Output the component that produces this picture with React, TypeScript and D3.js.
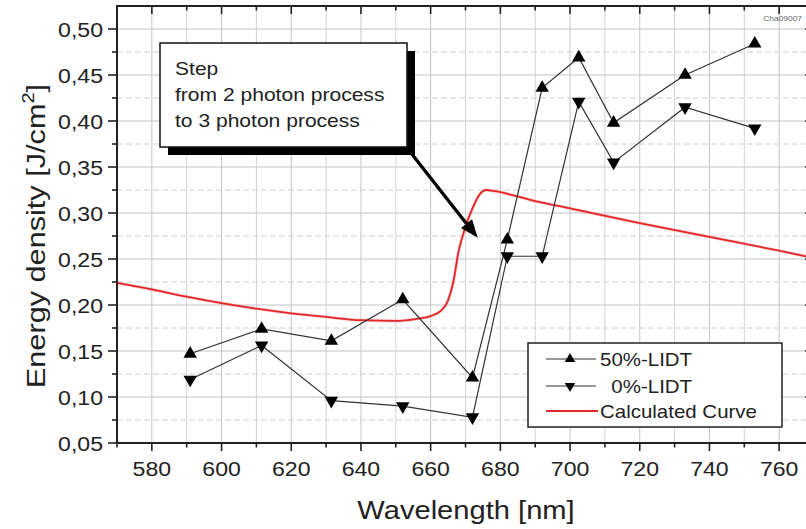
import React from "react";
import * as d3 from "d3";

// ---- data ----
const wavelengths = [591, 611.5, 631.5, 652, 672, 682, 692, 702.5, 712.5, 733, 753];
const lidt50 = [0.147, 0.174, 0.161, 0.206, 0.121, 0.271, 0.436, 0.469, 0.398, 0.45, 0.484];
const lidt0 = [0.119, 0.156, 0.096, 0.09, 0.078, 0.253, 0.253, 0.421, 0.355, 0.415, 0.392];

const calcWl = [570, 580, 590, 600, 610, 620, 630, 640, 650, 656, 660, 663, 665, 666.5, 668, 670, 672, 674, 676, 678, 690, 700, 720, 740, 760, 770];
const calcVal = [0.224, 0.217, 0.209, 0.202, 0.196, 0.191, 0.187, 0.1835, 0.1828, 0.185, 0.188, 0.194, 0.205, 0.225, 0.258, 0.285, 0.305, 0.32, 0.325, 0.324, 0.313, 0.305, 0.289, 0.274, 0.259, 0.251];

const xMajorTicks = [580, 600, 620, 640, 660, 680, 700, 720, 740, 760];
const xMinorTicks = [570, 590, 610, 630, 650, 670, 690, 710, 730, 750, 770];
const yMajorTicks = [0.05, 0.1, 0.15, 0.2, 0.25, 0.3, 0.35, 0.4, 0.45, 0.5];
const yMinorTicks = [0.075, 0.125, 0.175, 0.225, 0.275, 0.325, 0.375, 0.425, 0.475];

const legendLabels = ["50%-LIDT", "  0%-LIDT", "Calculated Curve"];
const noteLines = ["Step", "from 2 photon process", "to 3 photon process"];

const W = 806;
const H = 529;
const FONT = "'Liberation Sans', Arial, Helvetica, sans-serif";

const x = d3.scaleLinear().domain([570, 770]).range([117, 814]);
const y = d3.scaleLinear().domain([0.05, 0.525]).range([443, 6]);

const fmt = (v: number) => d3.format(".2f")(v).replace(".", ",");

function SText(props: any) {
  const { x: tx, y: ty, anchor = "start", size, sx = 1.15, rotate, fill = "#222", children } = props;
  return (
    <text
      transform={`translate(${tx},${ty})${rotate ? ` rotate(${rotate})` : ""} scale(${sx},1)`}
      textAnchor={anchor}
      fontSize={size}
      fontFamily={FONT}
      fill={fill}
      style={{ whiteSpace: "pre" }}
    >
      {children}
    </text>
  );
}

export default function App() {
  const [x0, x1] = [x(570), x(770)];
  const [yb, yt] = [y(0.05), y(0.525)];

  const seriesLine = d3
    .line<number>()
    .x((_, i) => x(wavelengths[i]))
    .y((d) => y(d));

  const calcLine = d3
    .line<number>()
    .x((_, i) => x(calcWl[i]))
    .y((d) => y(d))
    .curve(d3.curveMonotoneX);

  const tri = d3.symbol().type(d3.symbolTriangle).size(78)() as string;
  const triSmall = d3.symbol().type(d3.symbolTriangle).size(48)() as string;

  // annotation geometry
  const box = { l: 160, t: 43, r: 407, b: 147 };
  const shadow = 8;
  const arrowStart = [411, 153];
  const arrowEnd = [x(673.5), y(0.273)];
  const ang = Math.atan2(arrowEnd[1] - arrowStart[1], arrowEnd[0] - arrowStart[0]);
  const hl = 18;
  const hw = 7;
  const bx = arrowEnd[0] - hl * Math.cos(ang);
  const by = arrowEnd[1] - hl * Math.sin(ang);
  const head = [
    [arrowEnd[0], arrowEnd[1]],
    [bx + hw * Math.sin(ang), by - hw * Math.cos(ang)],
    [bx - hw * Math.sin(ang), by + hw * Math.cos(ang)],
  ];

  const leg = { l: 528, t: 343, r: 782, b: 427 };
  const legRows = [359, 386, 411];

  return (
    <svg
      width={W}
      height={H}
      style={{ position: "absolute", left: 0, top: 0, background: "#fff" }}
    >
      <defs>
        <clipPath id="plot">
          <rect x={x0} y={yt} width={x1 - x0} height={yb - yt} />
        </clipPath>
      </defs>
      <rect x={0} y={0} width={W} height={H} fill="#fff" />

      {/* grid */}
      <g>
        {xMinorTicks.map((t) => (
          <line key={"gxm" + t} x1={x(t)} x2={x(t)} y1={yt} y2={yb} stroke="#d2d2d2" strokeWidth={1} />
        ))}
        {xMajorTicks.map((t) => (
          <line key={"gx" + t} x1={x(t)} x2={x(t)} y1={yt} y2={yb} stroke="#c4c4c4" strokeWidth={1} />
        ))}
        {yMinorTicks.map((t) => (
          <line key={"gym" + t} x1={x0} x2={x1} y1={y(t)} y2={y(t)} stroke="#d0d0d0" strokeWidth={1} strokeDasharray="6,3" />
        ))}
        {yMajorTicks.map((t) => (
          <line key={"gy" + t} x1={x0} x2={x1} y1={y(t)} y2={y(t)} stroke="#c4c4c4" strokeWidth={1} />
        ))}
      </g>

      {/* data */}
      <g clipPath="url(#plot)">
        <path d={calcLine(calcVal) as string} fill="none" stroke="#f4a0a0" strokeWidth={3.2} opacity={0.5} />
        <path d={calcLine(calcVal) as string} fill="none" stroke="#e2262c" strokeWidth={1.8} />
        <path d={seriesLine(lidt50) as string} fill="none" stroke="#333" strokeWidth={1.2} />
        <path d={seriesLine(lidt0) as string} fill="none" stroke="#333" strokeWidth={1.2} />
        {lidt50.map((v, i) => (
          <path key={"u" + i} d={tri} transform={`translate(${x(wavelengths[i])},${y(v)})`} fill="#000" />
        ))}
        {lidt0.map((v, i) => (
          <path key={"d" + i} d={tri} transform={`translate(${x(wavelengths[i])},${y(v)}) rotate(180)`} fill="#000" />
        ))}
      </g>

      {/* axes frame */}
      <g stroke="#222" strokeWidth={2} fill="none">
        <line x1={x0} x2={x0} y1={yt} y2={yb + 1} />
        <line x1={x0 - 1} x2={x1} y1={yb} y2={yb} />
        <line x1={x0 - 1} x2={x1} y1={yt} y2={yt} />
        <line x1={x1} x2={x1} y1={yt} y2={yb} />
      </g>
      <g stroke="#222" strokeWidth={1.6}>
        {xMajorTicks.map((t) => (
          <g key={"tx" + t}>
            <line x1={x(t)} x2={x(t)} y1={yb} y2={yb + 8} />
            <line x1={x(t)} x2={x(t)} y1={yt} y2={yt + 8} />
          </g>
        ))}
        {xMinorTicks.map((t) => (
          <g key={"txm" + t}>
            <line x1={x(t)} x2={x(t)} y1={yb} y2={yb + 4.5} />
            <line x1={x(t)} x2={x(t)} y1={yt} y2={yt + 4.5} />
          </g>
        ))}
        {yMajorTicks.map((t) => (
          <g key={"ty" + t}>
            <line x1={x0} x2={x0 - 9} y1={y(t)} y2={y(t)} />
            <line x1={x1} x2={x1 - 9} y1={y(t)} y2={y(t)} />
          </g>
        ))}
        {yMinorTicks.map((t) => (
          <g key={"tym" + t}>
            <line x1={x0} x2={x0 - 5} y1={y(t)} y2={y(t)} />
            <line x1={x1} x2={x1 - 5} y1={y(t)} y2={y(t)} />
          </g>
        ))}
      </g>

      {/* tick labels */}
      {yMajorTicks.map((t) => (
        <SText key={"ly" + t} x={x0 - 14} y={y(t) + 7.5} anchor="end" size={21} sx={1.1}>
          {fmt(t)}
        </SText>
      ))}
      {xMajorTicks.map((t) => (
        <SText key={"lx" + t} x={x(t)} y={yb + 33} anchor="middle" size={21} sx={1.1}>
          {String(t)}
        </SText>
      ))}

      {/* axis titles */}
      <SText x={466} y={519} anchor="middle" size={26} sx={1.12}>
        Wavelength [nm]
      </SText>
      <text
        transform={`translate(45,236) rotate(-90) scale(1.18,1)`}
        textAnchor="middle"
        fontSize={26}
        fontFamily={FONT}
        fill="#222"
      >
        Energy density [J/cm
        <tspan fontSize={17} dy={-11}>2</tspan>
        <tspan dy={11}>]</tspan>
      </text>

      {/* small id */}
      <SText x={802} y={21} anchor="end" size={8} sx={1.05} fill="#666">
        Cha09007
      </SText>

      {/* annotation */}
      <rect x={box.l + shadow} y={box.t + shadow} width={box.r - box.l} height={box.b - box.t} fill="#000" />
      <rect x={box.l} y={box.t} width={box.r - box.l} height={box.b - box.t} fill="#fff" stroke="#111" strokeWidth={1.5} />
      {noteLines.map((s, i) => (
        <SText key={"n" + i} x={175} y={75 + i * 26} size={18} sx={1.17}>
          {s}
        </SText>
      ))}
      <line
        x1={arrowStart[0]}
        y1={arrowStart[1]}
        x2={bx}
        y2={by}
        stroke="#000"
        strokeWidth={3.3}
      />
      <polygon points={head.map((p) => p.join(",")).join(" ")} fill="#000" />

      {/* legend */}
      <rect x={leg.l} y={leg.t} width={leg.r - leg.l} height={leg.b - leg.t} fill="#fff" stroke="#222" strokeWidth={1.5} />
      <g stroke="#333" strokeWidth={1.2}>
        <line x1={546} x2={596} y1={legRows[0]} y2={legRows[0]} />
        <line x1={546} x2={596} y1={legRows[1]} y2={legRows[1]} />
      </g>
      <path d={triSmall} transform={`translate(570,${legRows[0]})`} fill="#000" />
      <path d={triSmall} transform={`translate(570,${legRows[1]}) rotate(180)`} fill="#000" />
      <line x1={546} x2={598} y1={legRows[2]} y2={legRows[2]} stroke="#e2262c" strokeWidth={2} />
      {legendLabels.map((s, i) => (
        <SText key={"lg" + i} x={600} y={legRows[i] + 7} size={17.5} sx={1.17}>
          {s}
        </SText>
      ))}
    </svg>
  );
}
